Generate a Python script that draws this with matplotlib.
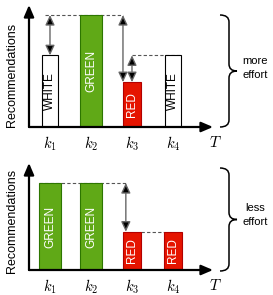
import matplotlib
matplotlib.use("Agg")
import matplotlib.pyplot as plt
from matplotlib.path import Path
from matplotlib.patches import PathPatch
from matplotlib.transforms import Affine2D
import numpy as np

plt.rcParams["font.family"] = ["Liberation Sans", "DejaVu Sans"]
plt.rcParams["mathtext.fontset"] = "cm"

# data
slots = ["$k_1$", "$k_2$", "$k_3$", "$k_4$"]
top_kind = ["WHITE", "GREEN", "RED", "WHITE"]
top_val = [3.2, 5.0, 2.0, 3.2]
bot_kind = ["GREEN", "GREEN", "RED", "RED"]
bot_val = [5.0, 5.0, 2.2, 2.2]

face = {"WHITE": "white", "GREEN": "#60a917", "RED": "#e51400"}
edge = {"WHITE": "black", "GREEN": "#2d7600", "RED": "#b20000"}
txtc = {"WHITE": "black", "GREEN": "white", "RED": "white"}
width = {"WHITE": 0.39, "GREEN": 0.53, "RED": 0.44}

W, H = 273, 295
fig = plt.figure(figsize=(W / 100, H / 100), dpi=100)


def px_axes(l, t, r, b):
    return fig.add_axes([l / W, 1 - b / H, (r - l) / W, (b - t) / H])


def gap_arrow(ax, x, y0, y1):
    ax.annotate("", xy=(x, y1), xytext=(x, y0),
                arrowprops=dict(arrowstyle="<|-|>,head_length=0.6,head_width=0.28",
                                ec="#666666", fc="black", lw=1.0,
                                mutation_scale=10, shrinkA=0, shrinkB=0),
                zorder=4)


def panel(ax, kinds, vals, ytop):
    x = np.arange(1, len(kinds) + 1)
    for xi, k, v in zip(x, kinds, vals):
        ax.bar(xi, v, width=width[k], color=face[k], edgecolor=edge[k], lw=0.8, zorder=2)
        ax.text(xi, v / 2, k, rotation=90, ha="center", va="center",
                color=txtc[k], fontsize=8.5, zorder=3)
    ax.set_xlim(0.488, 4.976)
    ax.set_ylim(0, ytop)
    for s in ax.spines.values():
        s.set_visible(False)
    ax.set_yticks([])
    ax.set_xticks(x, slots, fontsize=10.5)
    ax.tick_params(axis="x", length=0, pad=5.5)
    for tip in [(1, 0), (0, 1)]:
        ax.annotate("", xy=tip, xytext=(0, 0), xycoords="axes fraction",
                    arrowprops=dict(arrowstyle="-|>,head_length=0.7,head_width=0.3",
                                    lw=1.6, color="black", mutation_scale=10,
                                    shrinkA=0, shrinkB=0), zorder=5)
    ax.annotate("$T$", xy=(1, 0), xycoords="axes fraction", xytext=(1.5, -11.5),
                textcoords="offset points", ha="center", va="center", fontsize=11)
    ax.set_ylabel("Recommendations", fontsize=9)
    return x


dash = dict(colors="#555555", linestyles=(0, (3, 2)), lw=0.8, zorder=1)

ax1 = px_axes(29, 5, 213, 127)
x = panel(ax1, top_kind, top_val, 5.446)
ax1.yaxis.set_label_coords(-0.06, 0.43)
ax1.hlines(top_val[1], x[0] - 0.12, x[2] - width["RED"] / 2, **dash)
ax1.hlines(top_val[0], x[2], x[3] + width["WHITE"] / 2, **dash)
gap_arrow(ax1, x[0], top_val[1], top_val[0])
gap_arrow(ax1, x[2] - width["RED"] / 2, top_val[1], top_val[2])
gap_arrow(ax1, x[2], top_val[3], top_val[2])

ax2 = px_axes(29, 163, 213, 270)
x = panel(ax2, bot_kind, bot_val, 6.15)
ax2.yaxis.set_label_coords(-0.06, 0.46)
ax2.hlines(bot_val[1], x[0] - width["GREEN"] / 2, x[2] - 0.15, **dash)
ax2.hlines(bot_val[2], x[2] + width["RED"] / 2, x[3] - width["RED"] / 2, **dash)
gap_arrow(ax2, x[2] - 0.15, bot_val[1], bot_val[2])

# curly braces, in pixel coordinates of the figure
pix = Affine2D().scale(1 / W, -1 / H).translate(0, 1) + fig.transFigure


def brace(x0, xm, x1, y0, y1, r=7):
    ym = (y0 + y1) / 2
    verts = [(x0, y0), (xm, y0), (xm, y0 + r), (xm, ym - r), (xm, ym), (x1, ym),
             (xm, ym), (xm, ym + r), (xm, y1 - r), (xm, y1), (x0, y1)]
    codes = [Path.MOVETO, Path.CURVE3, Path.CURVE3, Path.LINETO, Path.CURVE3, Path.CURVE3,
             Path.CURVE3, Path.CURVE3, Path.LINETO, Path.CURVE3, Path.CURVE3]
    fig.add_artist(PathPatch(Path(verts, codes), transform=pix, fc="none", ec="black", lw=1.1))


brace(220, 229, 237, 15, 127)
brace(220, 229, 237, 168, 271)
fig.text(255 / W, 1 - 68 / H, "more\neffort", ha="center", va="center", fontsize=8, linespacing=1.4)
fig.text(255 / W, 1 - 215 / H, "less\neffort", ha="center", va="center", fontsize=8, linespacing=1.4)

fig.savefig("out.png", dpi=100)
